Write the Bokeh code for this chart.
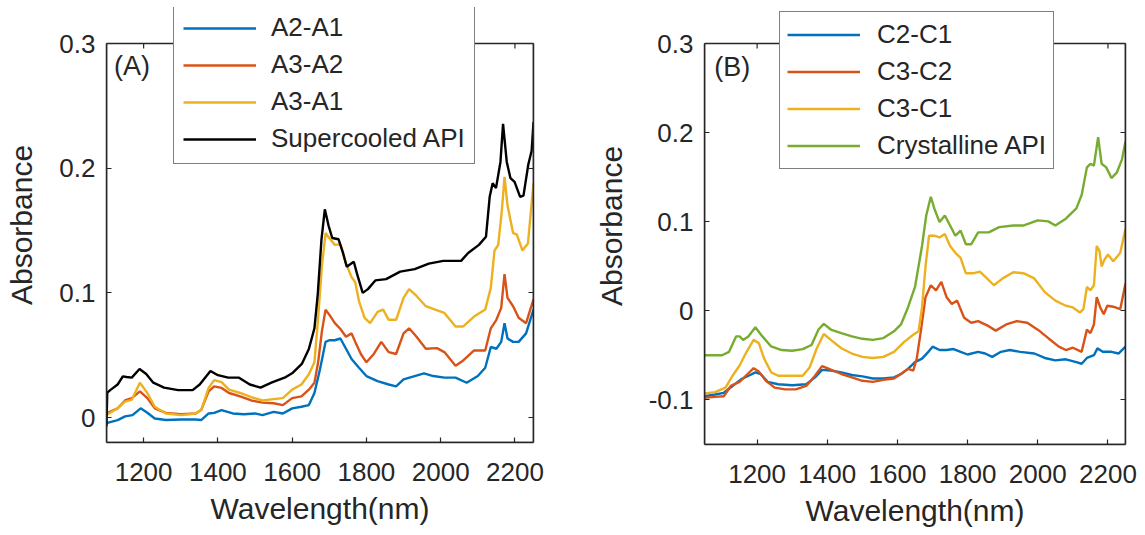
from bokeh.plotting import figure
from bokeh.models import Legend, LegendItem, LinearAxis, FixedTicker, Label, Range1d, BoxAnnotation
from bokeh.layouts import row
from bokeh.embed import file_html
from bokeh.resources import INLINE

FONT = "Liberation Sans"
TXT = "#262626"
C_BLUE, C_RED, C_YEL, C_GRN, C_BLK = "#0072BD", "#D95319", "#EDB120", "#77AC30", "#000000"

# ---------------- Panel A data ----------------
wl_sc = [1100, 1102, 1110, 1130, 1144, 1154, 1168, 1189, 1207, 1226, 1255, 1293, 1332, 1351, 1380, 1400, 1428,
         1457, 1486, 1515, 1544, 1583, 1602, 1626, 1645, 1660, 1669, 1679, 1688, 1698, 1708, 1725, 1737, 1747,
         1766, 1775, 1790, 1804, 1824, 1853, 1891, 1930, 1968, 2007, 2055, 2074, 2103, 2122, 2132, 2140, 2149,
         2161, 2168, 2178, 2188, 2199, 2214, 2223, 2236, 2245, 2250]
supercooled = [-0.007, 0.020, 0.022, 0.0265, 0.033, 0.0325, 0.032, 0.039, 0.035, 0.028, 0.024, 0.022, 0.022,
               0.0265, 0.0374, 0.034, 0.032, 0.032, 0.0265, 0.024, 0.028, 0.0325, 0.036, 0.043, 0.055, 0.0716,
               0.099, 0.143, 0.167, 0.154, 0.144, 0.143, 0.132, 0.121, 0.125, 0.115, 0.100, 0.103, 0.110, 0.111,
               0.117, 0.119, 0.1235, 0.1257, 0.1257, 0.132, 0.1385, 0.145, 0.177, 0.188, 0.184, 0.205, 0.2355,
               0.205, 0.192, 0.189, 0.177, 0.178, 0.203, 0.214, 0.237]

wl_a31 = [1100, 1130, 1150, 1168, 1190, 1210, 1230, 1260, 1300, 1340, 1355, 1375, 1390, 1410, 1430, 1460, 1490,
          1520, 1550, 1575, 1600, 1625, 1645, 1660, 1670, 1680, 1690, 1700, 1715, 1730, 1745, 1760, 1770, 1780,
          1795, 1810, 1830, 1845, 1860, 1880, 1900, 1915, 1935, 1960, 1985, 2010, 2040, 2060, 2090, 2120, 2135,
          2145, 2155, 2165, 2172, 2180, 2195, 2205, 2220, 2235, 2250]
a3_a1 = [0.002, 0.0074, 0.0128, 0.0142, 0.028, 0.0197, 0.0087, 0.0033, 0.002, 0.0033, 0.006, 0.0238, 0.030,
         0.0284, 0.0224, 0.0197, 0.0164, 0.0137, 0.0148, 0.0156, 0.0224, 0.0265, 0.0347, 0.0443, 0.080, 0.121,
         0.148, 0.144, 0.1385, 0.139, 0.1235, 0.1126, 0.1085, 0.0934, 0.080, 0.0757, 0.0847, 0.0866, 0.0784,
         0.0784, 0.096, 0.103, 0.0975, 0.0893, 0.0866, 0.0839, 0.073, 0.073, 0.081, 0.0866, 0.104, 0.134, 0.1385,
         0.167, 0.193, 0.170, 0.148, 0.147, 0.134, 0.1396, 0.188]

wl_a32 = [1100, 1130, 1150, 1168, 1190, 1210, 1230, 1260, 1300, 1340, 1355, 1375, 1390, 1410, 1430, 1460, 1490,
          1520, 1550, 1575, 1600, 1625, 1645, 1660, 1670, 1680, 1690, 1700, 1715, 1730, 1745, 1760, 1770, 1785,
          1800, 1820, 1840, 1860, 1880, 1900, 1915, 1935, 1960, 1990, 2010, 2040, 2060, 2090, 2120, 2135, 2150,
          2163, 2172, 2180, 2195, 2210, 2230, 2250]
a3_a2 = [0.0033, 0.0074, 0.0137, 0.0156, 0.021, 0.0156, 0.0074, 0.0038, 0.0027, 0.0033, 0.006, 0.021, 0.025,
         0.0238, 0.0197, 0.017, 0.0137, 0.012, 0.0115, 0.010, 0.0156, 0.017, 0.0224, 0.0279, 0.0443, 0.0689,
         0.0866, 0.0825, 0.0757, 0.071, 0.0648, 0.0675, 0.0607, 0.051, 0.0443, 0.051, 0.0607, 0.0525, 0.051,
         0.0675, 0.0716, 0.0648, 0.0552, 0.0557, 0.0525, 0.0415, 0.0456, 0.0538, 0.0538, 0.0716, 0.0784, 0.088,
         0.115, 0.096, 0.0893, 0.080, 0.0757, 0.0948]

wl_a21 = [1100, 1130, 1150, 1170, 1192, 1210, 1230, 1260, 1300, 1340, 1355, 1375, 1390, 1410, 1440, 1470, 1500,
          1520, 1550, 1575, 1600, 1625, 1645, 1660, 1675, 1690, 1700, 1715, 1730, 1745, 1760, 1780, 1800, 1830,
          1860, 1880, 1900, 1930, 1955, 1980, 2010, 2040, 2070, 2100, 2120, 2135, 2150, 2163, 2172, 2180, 2195,
          2210, 2230, 2250]
a2_a1 = [-0.0044, -0.002, 0.001, 0.002, 0.0074, 0.0038, -0.0008, -0.002, -0.0016, -0.0016, -0.002, 0.0033,
         0.0038, 0.006, 0.0033, 0.0027, 0.0033, 0.002, 0.0046, 0.0033, 0.0074, 0.0087, 0.010, 0.0197, 0.0388,
         0.0607, 0.062, 0.062, 0.0634, 0.0552, 0.047, 0.040, 0.0333, 0.0292, 0.0265, 0.025, 0.0306, 0.0333,
         0.0355, 0.0333, 0.032, 0.032, 0.0279, 0.0333, 0.040, 0.0566, 0.0552, 0.0607, 0.0757, 0.0634, 0.0607,
         0.0607, 0.0675, 0.0866]

# ---------------- Panel B data ----------------
wl_cr = [1050, 1100, 1120, 1140, 1150, 1160, 1175, 1195, 1215, 1240, 1270, 1300, 1330, 1355, 1375, 1390, 1410,
         1440, 1470, 1500, 1530, 1560, 1590, 1610, 1630, 1650, 1670, 1682, 1695, 1705, 1720, 1735, 1750, 1765,
         1780, 1795, 1810, 1830, 1860, 1890, 1930, 1960, 2000, 2030, 2050, 2080, 2110, 2125, 2140, 2150, 2160,
         2172, 2182, 2195, 2210, 2225, 2240, 2250]
crystalline = [-0.0498, -0.0498, -0.046, -0.0287, -0.0287, -0.0326, -0.0287, -0.0184, -0.0287, -0.040, -0.044,
               -0.0448, -0.043, -0.0383, -0.021, -0.0146, -0.021, -0.025, -0.0287, -0.0314, -0.0326, -0.0306,
               -0.023, -0.0153, 0.0038, 0.0268, 0.0728, 0.107, 0.128, 0.1149, 0.0996, 0.107, 0.0958, 0.0843,
               0.090, 0.0747, 0.0747, 0.088, 0.088, 0.0939, 0.0958, 0.0958, 0.1015, 0.1004, 0.0958, 0.1034, 0.115,
               0.130, 0.161, 0.165, 0.163, 0.195, 0.165, 0.161, 0.149, 0.155, 0.170, 0.190]

wl_c31 = [1050, 1080, 1110, 1130, 1150, 1170, 1190, 1205, 1220, 1240, 1260, 1300, 1330, 1350, 1370, 1390, 1410,
          1440, 1470, 1500, 1530, 1560, 1590, 1620, 1645, 1660, 1670, 1680, 1690, 1705, 1720, 1735, 1750, 1765,
          1780, 1795, 1815, 1835, 1855, 1875, 1900, 1930, 1960, 1990, 2020, 2050, 2080, 2100, 2120, 2130, 2140,
          2150, 2160, 2168, 2176, 2182, 2190, 2200, 2215, 2235, 2250]
c3_c1 = [-0.0927, -0.0912, -0.0862, -0.0728, -0.0613, -0.046, -0.0326, -0.0364, -0.0536, -0.069, -0.0728,
         -0.0728, -0.0728, -0.0632, -0.042, -0.026, -0.0326, -0.042, -0.0479, -0.0517, -0.0529, -0.0517, -0.046,
         -0.0345, -0.0268, -0.023, 0.0038, 0.0498, 0.0843, 0.0843, 0.0824, 0.0862, 0.0728, 0.0651, 0.0594,
         0.0421, 0.0421, 0.044, 0.0364, 0.0287, 0.0364, 0.0433, 0.0421, 0.0364, 0.021, 0.0115, 0.0057, 0.0038,
         -0.0019, 0.0019, 0.0268, 0.023, 0.0287, 0.0728, 0.067, 0.0498, 0.0575, 0.0632, 0.0556, 0.0651, 0.092]

wl_c32 = [1050, 1080, 1105, 1125, 1150, 1170, 1190, 1205, 1225, 1250, 1280, 1310, 1340, 1365, 1385, 1405, 1440,
          1470, 1500, 1530, 1560, 1590, 1610, 1630, 1645, 1655, 1668, 1680, 1695, 1710, 1725, 1740, 1755, 1770,
          1790, 1810, 1830, 1860, 1880, 1910, 1940, 1970, 2000, 2030, 2060, 2080, 2100, 2125, 2140, 2150, 2160,
          2168, 2178, 2188, 2198, 2215, 2235, 2250]
c3_c2 = [-0.0977, -0.0966, -0.0958, -0.0843, -0.0797, -0.072, -0.0644, -0.0682, -0.0785, -0.0862, -0.0881,
         -0.0881, -0.0843, -0.0728, -0.062, -0.0651, -0.0709, -0.0747, -0.0785, -0.0797, -0.0774, -0.0759,
         -0.0709, -0.0651, -0.067, -0.0536, -0.0192, 0.0153, 0.0287, 0.023, 0.0326, 0.0153, 0.0077, 0.0115,
         -0.0077, -0.0134, -0.0115, -0.0172, -0.0222, -0.0153, -0.0115, -0.0134, -0.0211, -0.0307, -0.0402,
         -0.044, -0.0414, -0.046, -0.0211, -0.025, -0.0153, 0.0153, 0.0038, -0.0038, 0.0057, 0.0046, 0.0019,
         0.0307]

wl_c21 = [1050, 1080, 1105, 1130, 1155, 1180, 1195, 1210, 1230, 1260, 1300, 1340, 1365, 1385, 1410, 1440, 1470,
          1500, 1530, 1560, 1590, 1610, 1630, 1650, 1670, 1690, 1700, 1720, 1740, 1760, 1780, 1800, 1830, 1850,
          1870, 1895, 1920, 1950, 1990, 2020, 2050, 2080, 2110, 2125, 2140, 2160, 2170, 2185, 2210, 2230, 2250]
c2_c1 = [-0.0958, -0.0939, -0.092, -0.0843, -0.0766, -0.072, -0.069, -0.0709, -0.0797, -0.0824, -0.0835,
         -0.0824, -0.0747, -0.0663, -0.067, -0.069, -0.072, -0.0736, -0.0759, -0.0759, -0.0747, -0.0709, -0.0651,
         -0.0575, -0.0536, -0.0452, -0.0402, -0.044, -0.044, -0.0429, -0.046, -0.049, -0.046, -0.0479, -0.0517,
         -0.046, -0.044, -0.046, -0.0479, -0.0529, -0.0556, -0.0544, -0.0575, -0.0594, -0.0529, -0.0498, -0.0421,
         -0.046, -0.046, -0.0479, -0.0402]

x_ticks = [1200, 1400, 1600, 1800, 2000, 2200]
y_ticks_a = [0, 0.1, 0.2, 0.3]
y_labels_a = ["0", "0.1", "0.2", "0.3"]
y_ticks_b = [-0.1, 0, 0.1, 0.2, 0.3]
y_labels_b = ["-0.1", "0", "0.1", "0.2", "0.3"]

FRAME_TOP = 7  # frame extends above the axes box so the legend can overhang it


def style_axis(ax, ticks, labels=None, hide_labels=False):
    ax.ticker = FixedTicker(ticks=ticks)
    ax.axis_line_color = TXT
    ax.axis_line_width = 1.5
    ax.major_tick_line_color = TXT
    ax.major_tick_line_width = 1.2
    ax.major_tick_in = 5
    ax.major_tick_out = 0
    ax.minor_tick_line_color = None
    ax.major_label_text_font = FONT
    ax.major_label_text_color = TXT
    ax.major_label_text_font_size = "26px"
    ax.axis_label_text_font = FONT
    ax.axis_label_text_color = TXT
    ax.axis_label_text_font_size = "30px"
    ax.axis_label_text_font_style = "normal"
    if labels is not None:
        ax.major_label_overrides = {t: l for t, l in zip(ticks, labels)}
    if hide_labels:
        ax.major_label_overrides = {t: "" for t in ticks}
        ax.major_label_standoff = 0


def make_panel(xr, yr, yt, yl, border_left, border_right, fwidth, box_top, box_bottom, series, tag, tag_xy,
               leg_loc, leg_pad, leg_h, leg_standoff):
    box_h = box_bottom - box_top
    per_px = (yr[1] - yr[0]) / box_h
    ymax = yr[1] + (box_top - FRAME_TOP) * per_px
    fheight = box_bottom - FRAME_TOP
    p = figure(frame_width=fwidth, frame_height=fheight, x_range=Range1d(*xr), y_range=Range1d(yr[0], ymax),
               output_backend="svg", toolbar_location=None, min_border_left=border_left,
               min_border_right=border_right, min_border_top=FRAME_TOP, min_border_bottom=535 - box_bottom)
    p.grid.visible = False
    p.outline_line_color = None
    p.background_fill_color = "white"
    p.border_fill_color = "white"
    style_axis(p.xaxis[0], x_ticks)
    p.xaxis[0].axis_label = "Wavelength(nm)"
    p.xaxis[0].major_label_standoff = 20
    p.xaxis[0].axis_label_standoff = 8
    style_axis(p.yaxis[0], yt, yl)
    p.yaxis[0].axis_label = "Absorbance"
    p.yaxis[0].major_label_standoff = 11
    p.yaxis[0].axis_label_standoff = 18
    p.yaxis[0].bounds = (yr[0], yr[1])
    right = LinearAxis(bounds=(yr[0], yr[1]))
    style_axis(right, yt, hide_labels=True)
    p.add_layout(right, "right")

    # top edge of the axes box, with inward ticks
    p.add_layout(BoxAnnotation(left=xr[0], right=xr[1], bottom=yr[0], top=yr[1], fill_color=None,
                               fill_alpha=0, line_color=TXT, line_alpha=1.0, line_width=1.5))
    p.segment(x0=x_ticks, y0=[yr[1]] * len(x_ticks), x1=x_ticks, y1=[yr[1] - 5 * per_px] * len(x_ticks),
              line_color=TXT, line_width=1.2)

    items = []
    for (xs, ys, col, name) in series:
        r = p.line(xs, ys, line_color=col, line_width=2.4)
        items.append(LegendItem(label=name, renderers=[r]))
    leg = Legend(items=items, location=leg_loc, padding=leg_pad, margin=0, spacing=6,
                 glyph_width=73, glyph_height=leg_h, label_height=leg_h, label_standoff=leg_standoff,
                 label_text_font=FONT, label_text_font_size="26px", label_text_color=TXT,
                 border_line_color="#000000", border_line_width=1.5, background_fill_color="white",
                 background_fill_alpha=1.0)
    p.add_layout(leg, "center")
    p.add_layout(Label(x=tag_xy[0], y=tag_xy[1], text=tag, text_font=FONT, text_font_size="27px",
                       text_color=TXT, text_baseline="top", text_align="left"))
    return p


pa = make_panel((1100, 2250), (-0.02, 0.3), y_ticks_a, y_labels_a, 106, 27, 427, 43, 442,
                [(wl_a21, a2_a1, C_BLUE, "A2-A1"), (wl_a32, a3_a2, C_RED, "A3-A2"),
                 (wl_a31, a3_a1, C_YEL, "A3-A1"), (wl_sc, supercooled, C_BLK, "Supercooled API")],
                "(A)", (1120, 0.294), (67, 278), 9, 30, 15)
pb = make_panel((1050, 2250), (-0.15, 0.3), y_ticks_b, y_labels_b, 144, 20, 421, 43, 444,
                [(wl_c21, c2_c1, C_BLUE, "C2-C1"), (wl_c32, c3_c2, C_RED, "C3-C2"),
                 (wl_c31, c3_c1, C_YEL, "C3-C1"), (wl_cr, crystalline, C_GRN, "Crystalline API")],
                "(B)", (1078, 0.291), (75, 275), 7, 31, 17)

layout = row(pa, pb)
open("out.html", "w").write(file_html(layout, INLINE))
